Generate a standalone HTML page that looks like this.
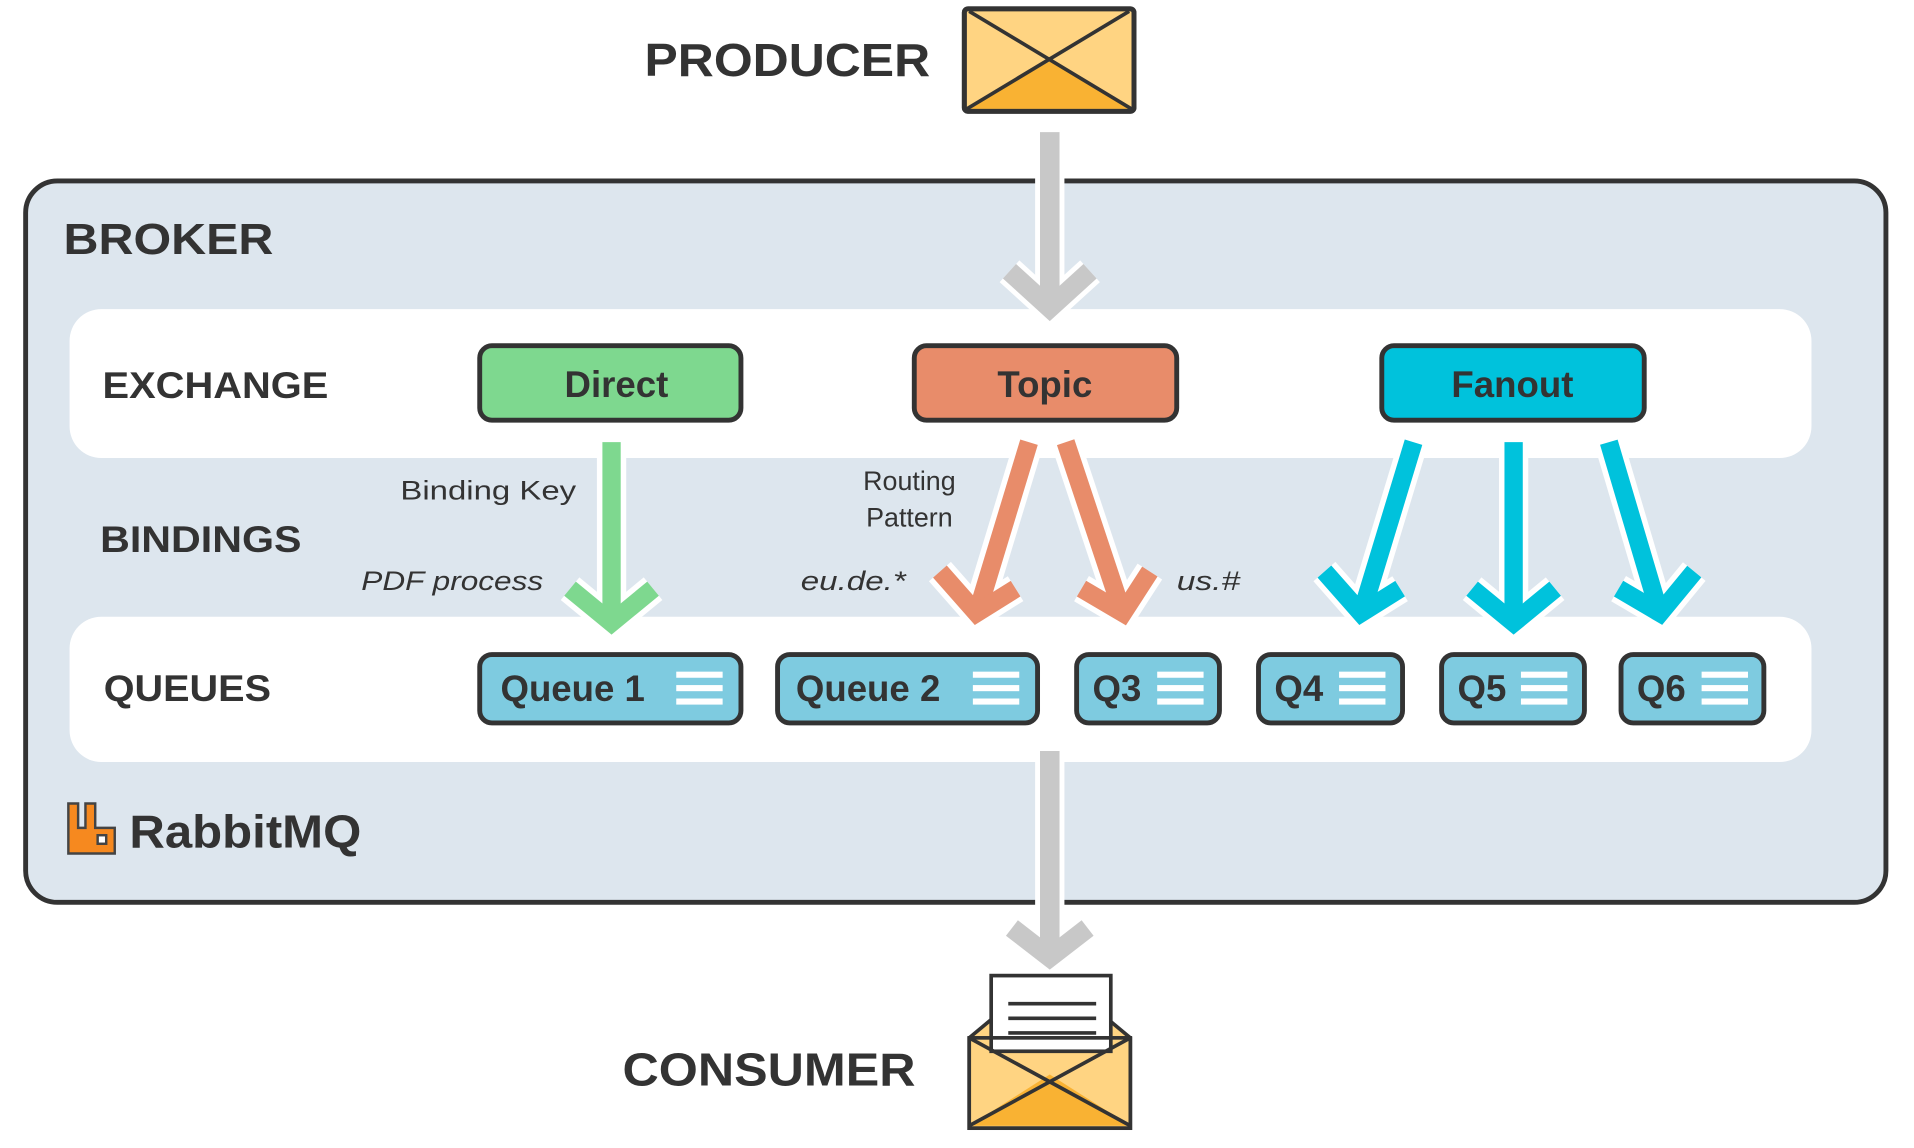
<!DOCTYPE html>
<html><head><meta charset="utf-8"><style>html,body{margin:0;padding:0;background:#fff}svg{display:block}</style></head>
<body>
<svg width="1914" height="1148" viewBox="0 0 1568 940" xmlns="http://www.w3.org/2000/svg" font-family="Liberation Sans, sans-serif">
<!-- producer -->
<text x="528" y="62" font-size="38" font-weight="bold" fill="#333" textLength="234" lengthAdjust="spacingAndGlyphs">PRODUCER</text>
<rect x="790" y="7" width="139" height="84" rx="3" fill="#ffd482" stroke="#333" stroke-width="4"/>
<polygon points="792,89 860,50 927,89" fill="#f9b233"/>
<line x1="792" y1="89" x2="925" y2="9" stroke="#333" stroke-width="3"/>
<line x1="927" y1="89" x2="794" y2="9" stroke="#333" stroke-width="3"/>
<rect x="790" y="7" width="139" height="84" rx="3" fill="none" stroke="#333" stroke-width="4"/>
<!-- broker -->
<rect x="21" y="148" width="1524" height="591" rx="26" fill="#dde6ee" stroke="#333" stroke-width="4"/>
<text x="52" y="208" font-size="36" font-weight="bold" fill="#333" textLength="172" lengthAdjust="spacingAndGlyphs">BROKER</text>
<rect x="57" y="253" width="1427" height="122" rx="26" fill="#fff"/>
<rect x="57" y="505" width="1427" height="119" rx="26" fill="#fff"/>
<!-- gray arrows -->
<g stroke="#fff" stroke-width="24" fill="none" stroke-linejoin="miter">
<line x1="860" y1="108" x2="860" y2="250"/>
<polyline points="827,222 860,252 893,222"/>
<line x1="860" y1="615" x2="860" y2="775"/>
<polyline points="829,760 860,784 891,760"/>
</g>
<g stroke="#c8c8c8" stroke-width="16" fill="none" stroke-linejoin="miter">
<line x1="860" y1="108" x2="860" y2="250"/>
<polyline points="827,222 860,252 893,222"/>
<line x1="860" y1="615" x2="860" y2="775"/>
<polyline points="829,760 860,784 891,760"/>
</g>
<!-- labels -->
<g font-weight="bold" fill="#333">
<text x="84" y="326" font-size="30" textLength="185" lengthAdjust="spacingAndGlyphs">EXCHANGE</text>
<text x="82" y="452" font-size="30" textLength="165" lengthAdjust="spacingAndGlyphs">BINDINGS</text>
<text x="85" y="574" font-size="30" textLength="137" lengthAdjust="spacingAndGlyphs">QUEUES</text>
</g>
<!-- exchanges -->
<g stroke="#333" stroke-width="4">
<rect x="393" y="283" width="214" height="61" rx="10" fill="#7ed88f"/>
<rect x="749" y="283" width="215" height="61" rx="10" fill="#e88c6a"/>
<rect x="1132" y="283" width="215" height="61" rx="10" fill="#00c2dc"/>
</g>
<g font-size="30" font-weight="bold" fill="#333" text-anchor="middle">
<text x="505" y="325">Direct</text>
<text x="856" y="325">Topic</text>
<text x="1239" y="325">Fanout</text>
</g>
<!-- binding arrows -->
<g fill="none" stroke-width="24" stroke="#fff">
<line x1="501" y1="362" x2="501" y2="508"/><polyline points="467,482 501,510 535,482"/>
<line x1="843" y1="362" x2="802" y2="497"/><polyline points="770,468 800,502 832,482"/>
<line x1="873" y1="362" x2="918" y2="497"/><polyline points="886,482 920,502 942,468"/>
<line x1="1158" y1="362" x2="1117" y2="497"/><polyline points="1085,468 1115,502 1147,482"/>
<line x1="1240" y1="362" x2="1240" y2="508"/><polyline points="1206,482 1240,510 1274,482"/>
<line x1="1318" y1="362" x2="1358" y2="497"/><polyline points="1326,482 1360,502 1388,468"/>
</g>
<g fill="none" stroke-width="15">
<g stroke="#7ed88f"><line x1="501" y1="362" x2="501" y2="508"/><polyline points="467,482 501,510 535,482"/></g>
<g stroke="#e88c6a"><line x1="843" y1="362" x2="802" y2="497"/><polyline points="770,468 800,502 832,482"/>
<line x1="873" y1="362" x2="918" y2="497"/><polyline points="886,482 920,502 942,468"/></g>
<g stroke="#00c2dc"><line x1="1158" y1="362" x2="1117" y2="497"/><polyline points="1085,468 1115,502 1147,482"/>
<line x1="1240" y1="362" x2="1240" y2="508"/><polyline points="1206,482 1240,510 1274,482"/>
<line x1="1318" y1="362" x2="1358" y2="497"/><polyline points="1326,482 1360,502 1388,468"/></g>
</g>
<g font-size="22" fill="#333">
<text x="328" y="409" textLength="144" lengthAdjust="spacingAndGlyphs">Binding Key</text>
<text x="745" y="401" text-anchor="middle">Routing</text>
<text x="745" y="431" text-anchor="middle">Pattern</text>
<g font-style="italic">
<text x="296" y="483" textLength="149" lengthAdjust="spacingAndGlyphs">PDF process</text>
<text x="656" y="483" textLength="86" lengthAdjust="spacingAndGlyphs">eu.de.*</text>
<text x="964" y="483" textLength="52" lengthAdjust="spacingAndGlyphs">us.#</text>
</g>
</g>
<!-- queues -->
<g stroke="#333" stroke-width="4" fill="#7ecbe0">
<rect x="393" y="536" width="214" height="56" rx="10"/>
<rect x="637" y="536" width="213" height="56" rx="10"/>
<rect x="882" y="536" width="117" height="56" rx="10"/>
<rect x="1031" y="536" width="118" height="56" rx="10"/>
<rect x="1181" y="536" width="117" height="56" rx="10"/>
<rect x="1328" y="536" width="117" height="56" rx="10"/>
</g>
<g font-size="30" font-weight="bold" fill="#333">
<text x="410" y="574">Queue 1</text>
<text x="652" y="574">Queue 2</text>
<text x="895" y="574">Q3</text>
<text x="1044" y="574">Q4</text>
<text x="1194" y="574">Q5</text>
<text x="1341" y="574">Q6</text>
</g>
<g fill="#fff">
<rect x="554" y="550" width="38" height="5"/><rect x="554" y="561" width="38" height="5"/><rect x="554" y="572" width="38" height="5"/>
<rect x="797" y="550" width="38" height="5"/><rect x="797" y="561" width="38" height="5"/><rect x="797" y="572" width="38" height="5"/>
<rect x="948" y="550" width="38" height="5"/><rect x="948" y="561" width="38" height="5"/><rect x="948" y="572" width="38" height="5"/>
<rect x="1097" y="550" width="38" height="5"/><rect x="1097" y="561" width="38" height="5"/><rect x="1097" y="572" width="38" height="5"/>
<rect x="1246" y="550" width="38" height="5"/><rect x="1246" y="561" width="38" height="5"/><rect x="1246" y="572" width="38" height="5"/>
<rect x="1394" y="550" width="38" height="5"/><rect x="1394" y="561" width="38" height="5"/><rect x="1394" y="572" width="38" height="5"/>
</g>
<!-- rabbitmq logo -->
<path d="M56,658 h8 v20 h6 v-20 h8 v20 h16 v21 h-38 z" fill="#f6891f" stroke="#444" stroke-width="2"/>
<rect x="80" y="684" width="7" height="7" fill="#fff" stroke="#444" stroke-width="2"/>
<text x="106" y="694" font-size="38" font-weight="bold" fill="#333" textLength="190" lengthAdjust="spacingAndGlyphs">RabbitMQ</text>
<!-- consumer -->
<text x="510" y="889" font-size="38" font-weight="bold" fill="#333" textLength="240" lengthAdjust="spacingAndGlyphs">CONSUMER</text>
<polygon points="794,850 812,835 908,835 926,850 926,924 794,924" fill="#ffd482" stroke="#333" stroke-width="3"/>
<rect x="812" y="799" width="98" height="62" fill="#fff" stroke="#333" stroke-width="3"/>
<g stroke="#333" stroke-width="3"><line x1="826" y1="822" x2="898" y2="822"/><line x1="826" y1="834" x2="898" y2="834"/><line x1="826" y1="846" x2="898" y2="846"/></g>
<polygon points="794,922 860,880 926,922" fill="#f9b233"/>
<line x1="794" y1="922" x2="926" y2="850" stroke="#333" stroke-width="3"/>
<line x1="926" y1="922" x2="794" y2="850" stroke="#333" stroke-width="3"/>
<rect x="794" y="850" width="132" height="74" fill="none" stroke="#333" stroke-width="3"/>
</svg>
</body></html>
